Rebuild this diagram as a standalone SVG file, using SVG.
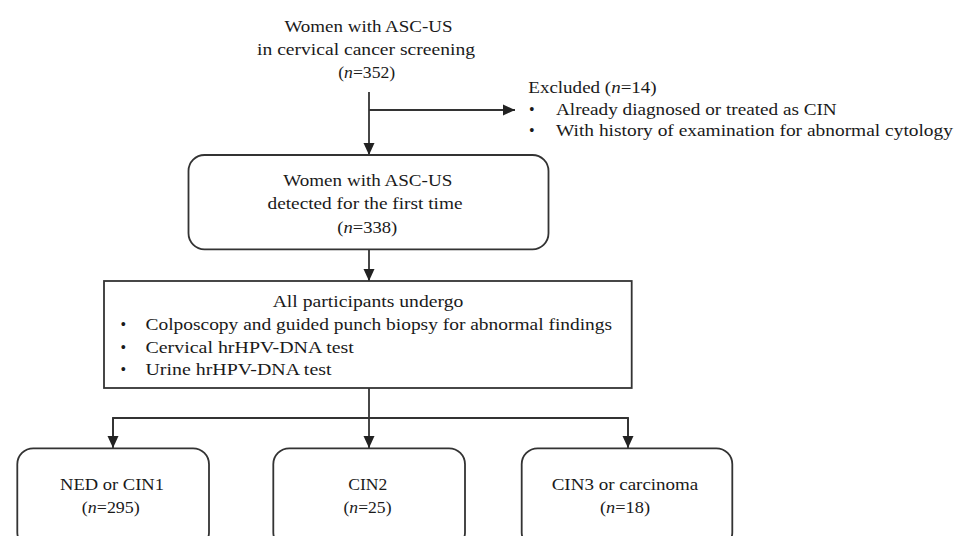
<svg xmlns="http://www.w3.org/2000/svg" width="962" height="536" viewBox="0 0 962 536">
<defs>
<style>
text{font-family:'Liberation Serif','DejaVu Serif',serif;font-size:17px;fill:#1a1a1a;}
.c{text-anchor:middle;}
.i{font-style:italic;}
.bul{font-size:16px;}
.box{fill:#fff;stroke:#333;stroke-width:1.8;}
.ln{fill:none;stroke:#333;stroke-width:1.8;}
</style>
<marker id="ah" markerUnits="userSpaceOnUse" markerWidth="12" markerHeight="12" viewBox="0 0 12 12" refX="12" refY="6" orient="auto">
<path d="M0,0.5 L12,6 L0,11.5 z" fill="#222"/>
</marker>
</defs>
<rect width="962" height="536" fill="#fff"/>

<g id="connectors">
<line class="ln" x1="369" y1="92" x2="369" y2="155" marker-end="url(#ah)"/>
<line class="ln" x1="369" y1="110" x2="515" y2="110" marker-end="url(#ah)"/>
<line class="ln" x1="369" y1="249" x2="369" y2="281" marker-end="url(#ah)"/>
<line class="ln" x1="369" y1="388" x2="369" y2="448" marker-end="url(#ah)"/>
<polyline class="ln" points="113,440 113,418 628,418 628,440"/>
<line class="ln" x1="113" y1="418" x2="113" y2="448" marker-end="url(#ah)"/>
<line class="ln" x1="628" y1="418" x2="628" y2="448" marker-end="url(#ah)"/>
</g>

<g font-family="Liberation Serif, serif">
<g id="start">
<text class="c" x="368.5" y="32" textLength="168" lengthAdjust="spacingAndGlyphs">Women with ASC-US</text>
<text class="c" x="366" y="55" textLength="218" lengthAdjust="spacingAndGlyphs">in cervical cancer screening</text>
<text class="c" x="366.7" y="78" textLength="57" lengthAdjust="spacingAndGlyphs">(<tspan class="i">n</tspan>=352)</text>
</g>

<g id="excluded">
<text x="528.3" y="93" textLength="128.4" lengthAdjust="spacingAndGlyphs">Excluded  (<tspan class="i">n</tspan>=14)</text>
<text class="bul" x="529" y="115">•</text>
<text x="556" y="115" textLength="280.7" lengthAdjust="spacingAndGlyphs">Already diagnosed or treated as CIN</text>
<text class="bul" x="529" y="136">•</text>
<text x="556" y="136" textLength="397" lengthAdjust="spacingAndGlyphs">With history of examination  for abnormal  cytology</text>
</g>

<g id="first-time">
<rect class="box" x="188.5" y="155" width="360" height="94.3" rx="16"/>
<text class="c" x="367.8" y="186" textLength="169" lengthAdjust="spacingAndGlyphs">Women with ASC-US</text>
<text class="c" x="365" y="208.5" textLength="195" lengthAdjust="spacingAndGlyphs">detected for the first time</text>
<text class="c" x="367.3" y="232.5" textLength="60" lengthAdjust="spacingAndGlyphs">(<tspan class="i">n</tspan>=338)</text>
</g>

<g id="all-participants">
<rect class="box" x="104" y="281" width="527.7" height="107"/>
<text class="c" x="368" y="306.5" textLength="190.6" lengthAdjust="spacingAndGlyphs">All participants undergo</text>
<text class="bul" x="120.5" y="330">•</text>
<text x="145.5" y="330" textLength="466.6" lengthAdjust="spacingAndGlyphs">Colposcopy and guided punch biopsy for abnormal  findings</text>
<text class="bul" x="120.5" y="352.7">•</text>
<text x="145.5" y="352.7" textLength="208.3" lengthAdjust="spacingAndGlyphs">Cervical  hrHPV-DNA  test</text>
<text class="bul" x="120.5" y="375">•</text>
<text x="145.5" y="375" textLength="186" lengthAdjust="spacingAndGlyphs">Urine  hrHPV-DNA  test</text>
</g>

<g id="ned-cin1">
<rect class="box" x="17.3" y="448.3" width="191.7" height="100" rx="16"/>
<text class="c" x="112" y="490" textLength="104" lengthAdjust="spacingAndGlyphs">NED  or CIN1</text>
<text class="c" x="110.8" y="513.3" textLength="58" lengthAdjust="spacingAndGlyphs">(<tspan class="i">n</tspan>=295)</text>
</g>

<g id="cin2">
<rect class="box" x="273.3" y="448.3" width="191.7" height="100" rx="16"/>
<text class="c" x="367.8" y="490" textLength="39" lengthAdjust="spacingAndGlyphs">CIN2</text>
<text class="c" x="367.5" y="513.3" textLength="48" lengthAdjust="spacingAndGlyphs">(<tspan class="i">n</tspan>=25)</text>
</g>

<g id="cin3-carcinoma">
<rect class="box" x="521.7" y="448.3" width="210.6" height="100" rx="16"/>
<text class="c" x="625" y="490" textLength="146.6" lengthAdjust="spacingAndGlyphs">CIN3  or carcinoma</text>
<text class="c" x="625" y="513.3" textLength="50" lengthAdjust="spacingAndGlyphs">(<tspan class="i">n</tspan>=18)</text>
</g>
</g>
</svg>
